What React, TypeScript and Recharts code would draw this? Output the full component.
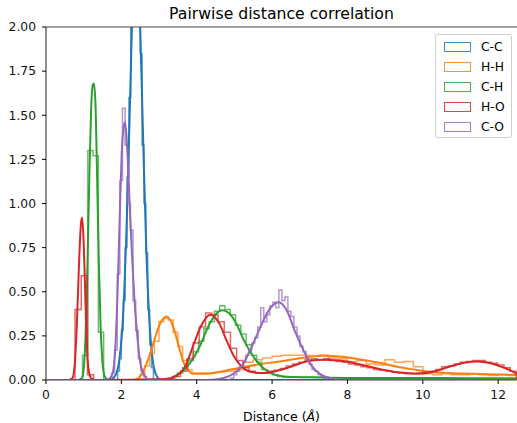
import React from 'react';
import { LineChart, Line, XAxis, YAxis, ReferenceLine } from 'recharts';

// ---- series meta ----
const seriesNames = ['C-C', 'H-H', 'C-H', 'H-O', 'C-O'];
const seriesColors = ['#1f77b4', '#ff7f0e', '#2ca02c', '#d62728', '#9467bd'];
const xTicks = [0, 2, 4, 6, 8, 10, 12];
const yTicks = [0, 0.25, 0.5, 0.75, 1.0, 1.25, 1.5, 1.75, 2.0];

// ---- C-C ----
const ccKdeX = [0, 1.7, 1.85, 1.95, 2.05, 2.15, 2.22, 2.28, 2.33, 2.38, 2.44, 2.5, 2.58, 2.66, 2.74, 2.82, 2.92, 3.05, 12.5];
const ccKdeY = [0, 0, 0.03, 0.12, 0.38, 0.95, 1.5, 2.0, 2.4, 2.6, 2.45, 2.0, 1.35, 0.75, 0.35, 0.13, 0.03, 0, 0];
const ccHistEdges = [1.9, 1.95, 2.0, 2.05, 2.1, 2.15, 2.2, 2.25, 2.3, 2.35, 2.4, 2.45, 2.5, 2.55, 2.6, 2.65, 2.7, 2.75, 2.8, 2.85];
const ccHistH = [0.05, 0.12, 0.28, 0.45, 0.75, 1.15, 1.6, 2.2, 2.7, 2.45, 2.75, 2.3, 1.85, 1.33, 1.0, 0.72, 0.4, 0.2, 0.07];

// ---- H-H ----
const hhKdeX = [0, 2.3, 2.45, 2.6, 2.75, 2.88, 3.03, 3.2, 3.38, 3.5, 3.65, 3.78, 3.91, 4.2, 4.6, 5.15, 5.7, 6.2, 6.8, 7.35, 7.9, 8.42, 8.9, 9.32, 9.8, 10.2, 10.8, 11.5, 12.5];
const hhKdeY = [0, 0, 0.01, 0.06, 0.14, 0.23, 0.32, 0.36, 0.3, 0.21, 0.1, 0.055, 0.035, 0.035, 0.045, 0.07, 0.09, 0.105, 0.125, 0.137, 0.13, 0.113, 0.095, 0.075, 0.058, 0.045, 0.038, 0.034, 0.028];
const hhHistEdges = [2.5, 2.625, 2.75, 2.875, 3.0, 3.125, 3.25, 3.375, 3.5, 3.625, 3.75, 3.875, 4.0, 4.25, 4.5, 4.75, 5.0, 5.25, 5.5, 5.75, 6.0, 6.25, 6.5, 6.75, 7.0, 7.25, 7.5, 7.75, 8.0, 8.25, 8.5, 8.75, 9.0, 9.25, 9.5, 9.75, 10.0, 10.25, 10.5, 10.75, 11.0, 11.25, 11.5, 11.75, 12.0, 12.25, 12.5];
const hhHistH = [0.03, 0.08, 0.15, 0.22, 0.33, 0.35, 0.34, 0.27, 0.19, 0.11, 0.06, 0.04, 0.04, 0.04, 0.045, 0.05, 0.06, 0.1, 0.115, 0.125, 0.135, 0.14, 0.14, 0.14, 0.135, 0.14, 0.125, 0.12, 0.105, 0.11, 0.09, 0.085, 0.115, 0.1, 0.105, 0.075, 0.035, 0.03, 0.035, 0.03, 0.03, 0.035, 0.03, 0.025, 0.03, 0.025];

// ---- C-H ----
const chKdeX = [0, 0.85, 0.95, 1.0, 1.05, 1.1, 1.15, 1.2, 1.24, 1.27, 1.31, 1.35, 1.4, 1.45, 1.5, 1.56, 1.65, 2.9, 3.2, 3.5, 3.7, 3.9, 4.1, 4.3, 4.5, 4.67, 4.85, 5.05, 5.24, 5.45, 5.68, 5.95, 6.3, 7.0, 8.0, 9.0, 10.0, 11.0, 12.5];
const chKdeY = [0, 0, 0.01, 0.06, 0.25, 0.65, 1.15, 1.55, 1.67, 1.68, 1.58, 1.22, 0.68, 0.3, 0.1, 0.02, 0, 0, 0.005, 0.03, 0.065, 0.12, 0.2, 0.3, 0.37, 0.395, 0.38, 0.32, 0.23, 0.15, 0.085, 0.04, 0.02, 0.015, 0.012, 0.012, 0.012, 0.01, 0.008];
const chHistEdges = [0.97, 1.11, 1.25, 1.39, 1.53, 3.21, 3.35, 3.49, 3.63, 3.77, 3.91, 4.05, 4.19, 4.33, 4.47, 4.61, 4.75, 4.89, 5.03, 5.17, 5.31, 5.45, 5.59, 5.73, 5.87, 6.01, 6.15, 6.29, 7.5, 9.0, 10.5, 12.5];
const chHistH = [0.14, 1.3, 1.27, 0.27, 0, 0.01, 0.02, 0.04, 0.07, 0.11, 0.16, 0.22, 0.29, 0.33, 0.39, 0.42, 0.4, 0.37, 0.31, 0.26, 0.2, 0.14, 0.1, 0.06, 0.04, 0.03, 0.02, 0.015, 0.012, 0.01, 0.01];

// ---- H-O ----
const hoKdeX = [0, 0.6, 0.7, 0.76, 0.82, 0.88, 0.93, 0.96, 1.0, 1.04, 1.08, 1.13, 1.2, 1.3, 3.2, 3.5, 3.7, 3.9, 4.1, 4.36, 4.6, 4.8, 5.0, 5.2, 5.45, 5.75, 6.1, 6.5, 6.9, 7.3, 7.8, 8.4, 8.9, 9.4, 9.9, 10.3, 10.7, 11.1, 11.45, 11.8, 12.15, 12.5];
const hoKdeY = [0, 0, 0.01, 0.08, 0.32, 0.68, 0.89, 0.92, 0.78, 0.5, 0.22, 0.06, 0.01, 0, 0.005, 0.03, 0.08, 0.19, 0.3, 0.37, 0.32, 0.22, 0.13, 0.075, 0.045, 0.04, 0.05, 0.075, 0.105, 0.115, 0.11, 0.085, 0.06, 0.042, 0.036, 0.048, 0.075, 0.098, 0.105, 0.095, 0.07, 0.035];
const hoHistEdges = [0.77, 0.935, 1.1, 1.265, 3.41, 3.575, 3.74, 3.905, 4.07, 4.235, 4.4, 4.565, 4.73, 4.895, 5.06, 5.225, 5.39, 5.555, 5.72, 5.885, 6.05, 6.215, 6.38, 6.545, 6.71, 6.875, 7.04, 7.205, 7.37, 7.535, 7.7, 7.865, 8.03, 8.195, 8.36, 8.525, 8.69, 8.855, 9.02, 9.185, 9.35, 9.515, 9.68, 9.845, 10.01, 10.175, 10.34, 10.505, 10.67, 10.835, 11.0, 11.165, 11.33, 11.495, 11.66, 11.825, 11.99, 12.155, 12.32, 12.485];
const hoHistH = [0.4, 0.59, 0.03, 0, 0.02, 0.05, 0.12, 0.21, 0.3, 0.38, 0.37, 0.33, 0.27, 0.18, 0.11, 0.07, 0.05, 0.04, 0.04, 0.05, 0.055, 0.065, 0.08, 0.09, 0.1, 0.115, 0.12, 0.115, 0.12, 0.11, 0.105, 0.1, 0.09, 0.085, 0.075, 0.07, 0.06, 0.055, 0.05, 0.045, 0.04, 0.035, 0.035, 0.04, 0.045, 0.05, 0.06, 0.075, 0.08, 0.09, 0.1, 0.105, 0.11, 0.11, 0.1, 0.095, 0.085, 0.07, 0.05];

// ---- C-O ----
const coKdeX = [0, 1.6, 1.7, 1.78, 1.83, 1.9, 1.96, 2.01, 2.06, 2.09, 2.13, 2.18, 2.23, 2.28, 2.34, 2.41, 2.5, 2.6, 2.7, 2.85, 4.3, 4.7, 5.0, 5.2, 5.42, 5.65, 5.9, 6.17, 6.4, 6.6, 6.83, 7.05, 7.3, 7.55, 8.0, 12.5];
const coKdeY = [0, 0, 0.01, 0.05, 0.15, 0.5, 0.95, 1.29, 1.43, 1.46, 1.4, 1.2, 0.95, 0.72, 0.48, 0.28, 0.1, 0.03, 0.005, 0, 0, 0.01, 0.04, 0.08, 0.17, 0.28, 0.39, 0.44, 0.39, 0.28, 0.17, 0.08, 0.03, 0.01, 0, 0];
const coHistEdges = [1.75, 1.82, 1.89, 1.96, 2.03, 2.1, 2.17, 2.24, 2.31, 2.38, 2.45, 2.52, 2.59, 2.66, 4.9, 4.98, 5.06, 5.14, 5.22, 5.3, 5.38, 5.46, 5.54, 5.62, 5.7, 5.78, 5.86, 5.94, 6.02, 6.1, 6.18, 6.26, 6.34, 6.42, 6.5, 6.58, 6.66, 6.74, 6.82, 6.9, 6.98, 7.06, 7.14, 7.22, 7.3, 7.38, 7.46];
const coHistH = [0.04, 0.17, 0.6, 1.13, 1.54, 1.33, 1.0, 0.85, 0.45, 0.28, 0.12, 0.05, 0.02, 0, 0.01, 0.03, 0.05, 0.08, 0.1, 0.14, 0.17, 0.21, 0.24, 0.3, 0.41, 0.33, 0.37, 0.42, 0.44, 0.41, 0.51, 0.45, 0.47, 0.39, 0.36, 0.3, 0.25, 0.19, 0.16, 0.12, 0.09, 0.06, 0.05, 0.03, 0.02, 0.01];

// ---- helpers to build library data ----
const kdePoints = (xs: number[], ys: number[]) => xs.map((x, i) => ({ x, y: ys[i] }));
const histPoints = (edges: number[], h: number[]) => {
  const pts: { x: number; y: number }[] = [{ x: edges[0], y: 0 }];
  h.forEach((v, i) => {
    pts.push({ x: edges[i], y: v });
    pts.push({ x: edges[i + 1], y: v });
  });
  pts.push({ x: edges[edges.length - 1], y: 0 });
  return pts;
};

const series = [
  { kde: kdePoints(ccKdeX, ccKdeY), hist: histPoints(ccHistEdges, ccHistH) },
  { kde: kdePoints(hhKdeX, hhKdeY), hist: histPoints(hhHistEdges, hhHistH) },
  { kde: kdePoints(chKdeX, chKdeY), hist: histPoints(chHistEdges, chHistH) },
  { kde: kdePoints(hoKdeX, hoKdeY), hist: histPoints(hoHistEdges, hoHistH) },
  { kde: kdePoints(coKdeX, coKdeY), hist: histPoints(coHistEdges, coHistH) },
];

const FONT = '"DejaVu Sans", sans-serif';
const SPINE = '#444';

export default function App() {
  const lines: React.ReactNode[] = [];
  series.forEach((s, i) => {
    lines.push(
      <Line
        key={`h${i}`}
        data={s.hist}
        dataKey="y"
        type="linear"
        stroke={seriesColors[i]}
        strokeOpacity={0.7}
        strokeWidth={1.5}
        dot={false}
        activeDot={false}
        isAnimationActive={false}
      />
    );
    lines.push(
      <Line
        key={`k${i}`}
        data={s.kde}
        dataKey="y"
        type="monotone"
        stroke={seriesColors[i]}
        strokeWidth={2}
        dot={false}
        activeDot={false}
        isAnimationActive={false}
      />
    );
  });

  return (
    <div style={{ position: 'absolute', left: 0, top: 0, width: 517, height: 423, background: '#fff', fontFamily: FONT }}>
      <LineChart width={517} height={423} margin={{ top: 27, right: 0, bottom: 0, left: 0 }}>
        <XAxis
          type="number"
          dataKey="x"
          domain={[0, 12.5]}
          ticks={xTicks}
          allowDataOverflow
          height={43}
          tickSize={4}
          tickMargin={6}
          stroke={SPINE}
          axisLine={{ stroke: SPINE, strokeWidth: 1.2 }}
          tickLine={{ stroke: '#000' }}
          tick={{ fill: '#111', fontSize: 12.3, fontFamily: FONT }}
        />
        <YAxis
          type="number"
          domain={[0, 2]}
          ticks={yTicks}
          allowDataOverflow
          width={46}
          tickSize={4}
          tickMargin={6}
          tickFormatter={(v: number) => v.toFixed(2)}
          axisLine={{ stroke: SPINE, strokeWidth: 1.2 }}
          tickLine={{ stroke: '#000' }}
          tick={{ fill: '#111', fontSize: 12.3, fontFamily: FONT }}
        />
        {lines}
        <ReferenceLine y={2} stroke={SPINE} strokeWidth={1.2} />
      </LineChart>

      <div style={{ position: 'absolute', left: 46, width: 471, top: 6, textAlign: 'center', fontSize: 15.7, lineHeight: '16px', color: '#000' }}>
        Pairwise distance correlation
      </div>
      <div style={{ position: 'absolute', left: 46, width: 471, top: 410, textAlign: 'center', fontSize: 12.5, lineHeight: '13px', color: '#000' }}>
        Distance (<i>Å</i>)
      </div>

      <div style={{ position: 'absolute', left: 435, top: 34, width: 77, height: 104, border: '1px solid #d0d0d0', borderRadius: 3, background: 'rgba(255,255,255,0.85)', boxSizing: 'border-box' }}>
        {seriesNames.map((name, i) => (
          <div key={name} style={{ position: 'absolute', left: 8, top: 5 + i * 20, height: 14, display: 'flex', alignItems: 'center' }}>
            <div style={{ width: 27, height: 10, border: `1.5px solid ${seriesColors[i]}`, boxSizing: 'border-box', opacity: 0.85 }} />
            <span style={{ marginLeft: 10, fontSize: 12.3, color: '#000', whiteSpace: 'nowrap' }}>{name}</span>
          </div>
        ))}
      </div>
    </div>
  );
}
